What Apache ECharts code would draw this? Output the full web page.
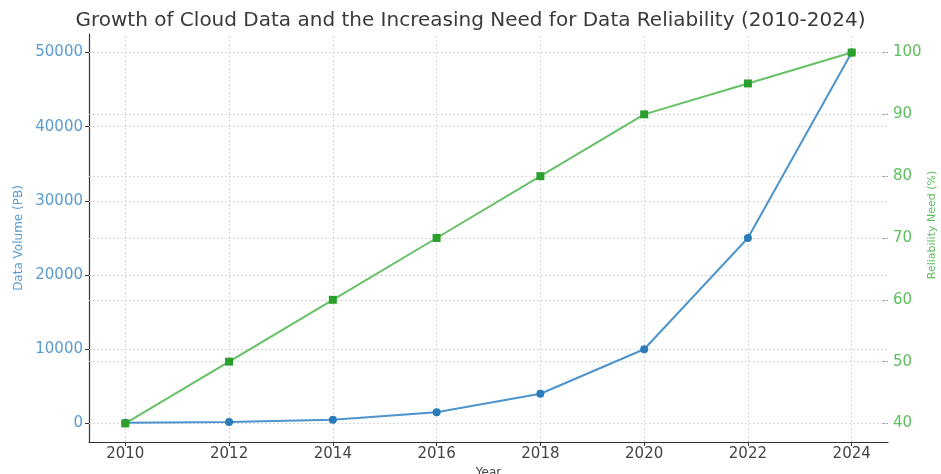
<!DOCTYPE html>
<html>
<head>
<meta charset="utf-8">
<script src="https://cdn.jsdelivr.net/npm/echarts@6/dist/echarts.min.js"></script>
<style>
  html, body { margin: 0; padding: 0; background: #fff; }
  #chart { width: 941px; height: 474px; }
</style>
</head>
<body>
<div id="chart"></div>
<script>
// values
var years = [2010, 2012, 2014, 2016, 2018, 2020, 2022, 2024];
var dataVolume = [100, 200, 500, 1500, 4000, 10000, 25000, 50000];
var reliabilityNeed = [40, 50, 60, 70, 80, 90, 95, 100];
var volumeTicks = [0, 10000, 20000, 30000, 40000, 50000];
var reliabilityTicks = [40, 50, 60, 70, 80, 90, 100];

var blue = '#2b7bba';
var green = '#2ca02c';
var font = 'DejaVu Sans';
var gridStyle = { color: '#d6d6d6', width: 1, type: [2, 2] };

var chartDom = document.getElementById('chart');
var myChart = echarts.init(chartDom);
var option;

// grid lines drawn as markLines at the tick values
var vLines = years.map(function (y) { return { xAxis: y }; });
var hLeft = volumeTicks.map(function (v) { return { yAxis: v }; });
var hRight = reliabilityTicks.map(function (v) { return { yAxis: v }; });

var plain = function (v) { return String(v); };

option = {
  animation: false,
  textStyle: { fontFamily: font },
  title: {
    text: 'Growth of Cloud Data and the Increasing Need for Data Reliability (2010-2024)',
    left: 'center',
    top: 6,
    textStyle: { fontFamily: font, fontSize: 20, fontWeight: 'normal', color: '#3a3a3a' }
  },
  grid: { left: 89, right: 53, top: 34, bottom: 32, outerBoundsMode: 'none', containLabel: false },
  xAxis: {
    type: 'value',
    min: 2009.3,
    max: 2024.7,
    name: 'Year',
    nameLocation: 'middle',
    nameGap: 23,
    nameTextStyle: { fontFamily: font, fontSize: 12, color: '#444' },
    axisLine: { show: true, onZero: false, lineStyle: { color: '#333', width: 1.2 } },
    axisTick: { show: true, customValues: years, length: 4, lineStyle: { color: '#333' } },
    axisLabel: { customValues: years, formatter: plain, fontFamily: font, fontSize: 15, color: '#444', margin: 5 },
    splitLine: { show: false }
  },
  yAxis: [
    {
      type: 'value',
      min: -2500,
      max: 52500,
      name: 'Data Volume (PB)',
      nameLocation: 'middle',
      nameGap: 64,
      nameTextStyle: { fontFamily: font, fontSize: 12, color: '#5a9bd0' },
      axisLine: { show: true, onZero: false, lineStyle: { color: '#333', width: 1.2 } },
      axisTick: { show: true, customValues: volumeTicks, length: 4, lineStyle: { color: '#333' } },
      axisLabel: { customValues: volumeTicks, formatter: plain, fontFamily: font, fontSize: 15, color: '#5a9bd0', margin: 6 },
      splitLine: { show: false }
    },
    {
      type: 'value',
      min: 37,
      max: 103,
      position: 'right',
      name: 'Reliability Need (%)',
      nameLocation: 'middle',
      nameGap: 39,
      nameMoveOverlap: false,
      nameTextStyle: { fontFamily: font, fontSize: 11, color: '#5cbf5c', padding: [0, 0, 0, 26] },
      axisLine: { show: false },
      axisTick: { show: true, inside: true, customValues: reliabilityTicks, length: 5, lineStyle: { color: '#999' } },
      axisLabel: { customValues: reliabilityTicks, formatter: plain, fontFamily: font, fontSize: 15, color: '#5cbf5c', margin: 5 },
      splitLine: { show: false }
    }
  ],
  series: [
    {
      name: 'Data Volume (PB)',
      type: 'line',
      yAxisIndex: 0,
      data: years.map(function (y, i) { return [y, dataVolume[i]]; }),
      symbol: 'circle',
      symbolSize: 8,
      itemStyle: { color: blue, borderWidth: 0 },
      lineStyle: { color: '#4d94cc', width: 2 },
      markLine: {
        silent: true,
        z: 1,
        symbol: 'none',
        label: { show: false },
        lineStyle: gridStyle,
        data: vLines.concat(hLeft)
      },
      z: 3
    },
    {
      name: 'Reliability Need (%)',
      type: 'line',
      yAxisIndex: 1,
      data: years.map(function (y, i) { return [y, reliabilityNeed[i]]; }),
      symbol: 'rect',
      symbolSize: 8,
      itemStyle: { color: green, borderWidth: 0 },
      lineStyle: { color: '#66c166', width: 2 },
      markLine: {
        silent: true,
        z: 1,
        symbol: 'none',
        label: { show: false },
        lineStyle: gridStyle,
        data: hRight
      },
      z: 4
    }
  ]
};

option && myChart.setOption(option);
</script>
</body>
</html>
